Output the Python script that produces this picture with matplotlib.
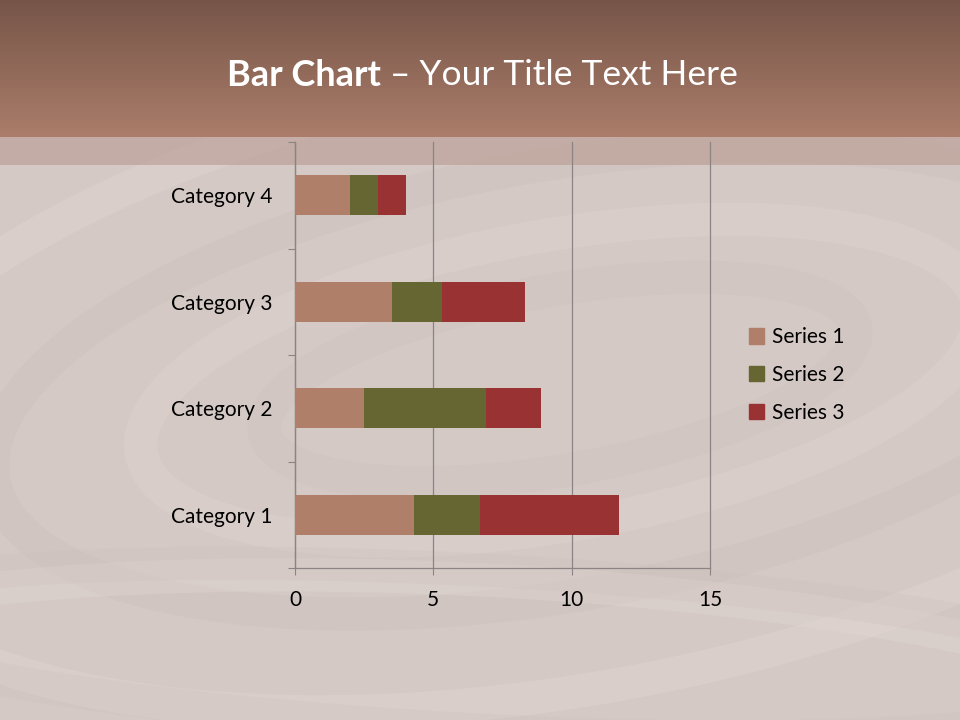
import numpy as np
import matplotlib.pyplot as plt
from matplotlib.patches import Patch, Ellipse

# Chart data
categories = ['Category 1', 'Category 2', 'Category 3', 'Category 4']
series_names = ['Series 1', 'Series 2', 'Series 3']
series1 = [4.3, 2.5, 3.5, 2.0]
series2 = [2.4, 4.4, 1.8, 1.0]
series3 = [5.0, 2.0, 3.0, 1.0]
x_ticks = [0, 5, 10, 15]

COLORS = ['#b07f6a', '#666633', '#993333']
FONT = 'Lato'
AXIS_GREY = '#8c8484'

fig = plt.figure(figsize=(9.6, 7.2), dpi=100)

# Background: header gradient, translucent band and the pale swirl area
bg = fig.add_axes([0, 0, 1, 1], zorder=0)
bg.set_xlim(0, 960)
bg.set_ylim(720, 0)
bg.axis('off')
bg.add_patch(plt.Rectangle((0, 0), 960, 720, color='#d4c9c5', zorder=0))

# faint swirl bands (just a hint of the texture)
for cx, cy, w, h, ang, col, a in [
    (560, 380, 1500, 620, -10, '#e4dad6', 0.35),
    (560, 380, 1150, 430, -10, '#c8bcb8', 0.25),
    (560, 380, 850, 290, -10, '#e2d8d4', 0.3),
    (560, 380, 600, 180, -10, '#cabebb', 0.25),
    (480, 720, 1500, 280, 3, '#e4dad6', 0.3),
    (480, 650, 1300, 160, 3, '#cdc1bd', 0.25),
]:
    bg.add_patch(Ellipse((cx, cy), w, h, angle=ang, fill=False,
                         lw=24, ec=col, alpha=a, zorder=1))

grad = np.linspace(0, 1, 256).reshape(-1, 1)
top = np.array([0x76, 0x55, 0x48]) / 255
bot = np.array([0xab, 0x7d, 0x6a]) / 255
img = top + (bot - top) * grad[:, :, None]
bg.imshow(img, extent=(0, 960, 137, 0), aspect='auto', zorder=2)
bg.add_patch(plt.Rectangle((0, 137), 960, 28, color='#b99a90', alpha=0.6, lw=0, zorder=2))

bg.text(381, 75, 'Bar Chart', color='white', fontsize=26, fontweight='bold',
        family=FONT, ha='right', va='center', zorder=3)
bg.text(381, 75, ' \u2013 Your Title Text Here', color='white', fontsize=25.5,
        family=FONT, ha='left', va='center', zorder=3)

# Chart
ax = fig.add_axes([295 / 960, 1 - 568 / 720, 415 / 960, 426 / 720], zorder=1)
ax.set_facecolor('none')

y = np.arange(len(categories))
left = np.zeros(len(categories))
for vals, name, col in zip([series1, series2, series3], series_names, COLORS):
    ax.barh(y, vals, left=left, height=0.375, color=col, label=name, zorder=3)
    left = left + np.array(vals)

ax.set_xlim(0, 15)
ax.set_ylim(-0.5, len(categories) - 0.5)
ax.set_xticks(x_ticks)
ax.set_yticks(np.arange(-0.5, len(categories), 1.0))
ax.set_yticklabels([])
ax.set_yticks(y, minor=True)
ax.set_yticklabels(categories, minor=True)
ax.tick_params(axis='y', which='minor', length=0, pad=16)
ax.tick_params(axis='y', which='major', length=5, color=AXIS_GREY, direction='out')
ax.tick_params(axis='x', length=5, color=AXIS_GREY, pad=11)
ax.grid(axis='x', color=AXIS_GREY, lw=0.9, zorder=1)
for gl in ax.get_xgridlines():
    gl.set_clip_on(False)

for s in ['top', 'right']:
    ax.spines[s].set_visible(False)
for s in ['left', 'bottom']:
    ax.spines[s].set_color(AXIS_GREY)
    ax.spines[s].set_linewidth(0.9)

for lbl in ax.get_xticklabels() + ax.get_yticklabels(minor=True):
    lbl.set_family(FONT)
    lbl.set_fontsize(15)
    lbl.set_color('black')

handles = [Patch(color=c, label=n) for c, n in zip(COLORS, series_names)]
fig.legend(handles=handles, loc='center left', bbox_to_anchor=(730 / 960, 1 - 375 / 720),
           frameon=False, prop={'family': FONT, 'size': 15}, handlelength=0.75,
           handleheight=0.75, handletextpad=0.35, labelspacing=0.85)

fig.savefig('out.png', dpi=100)
